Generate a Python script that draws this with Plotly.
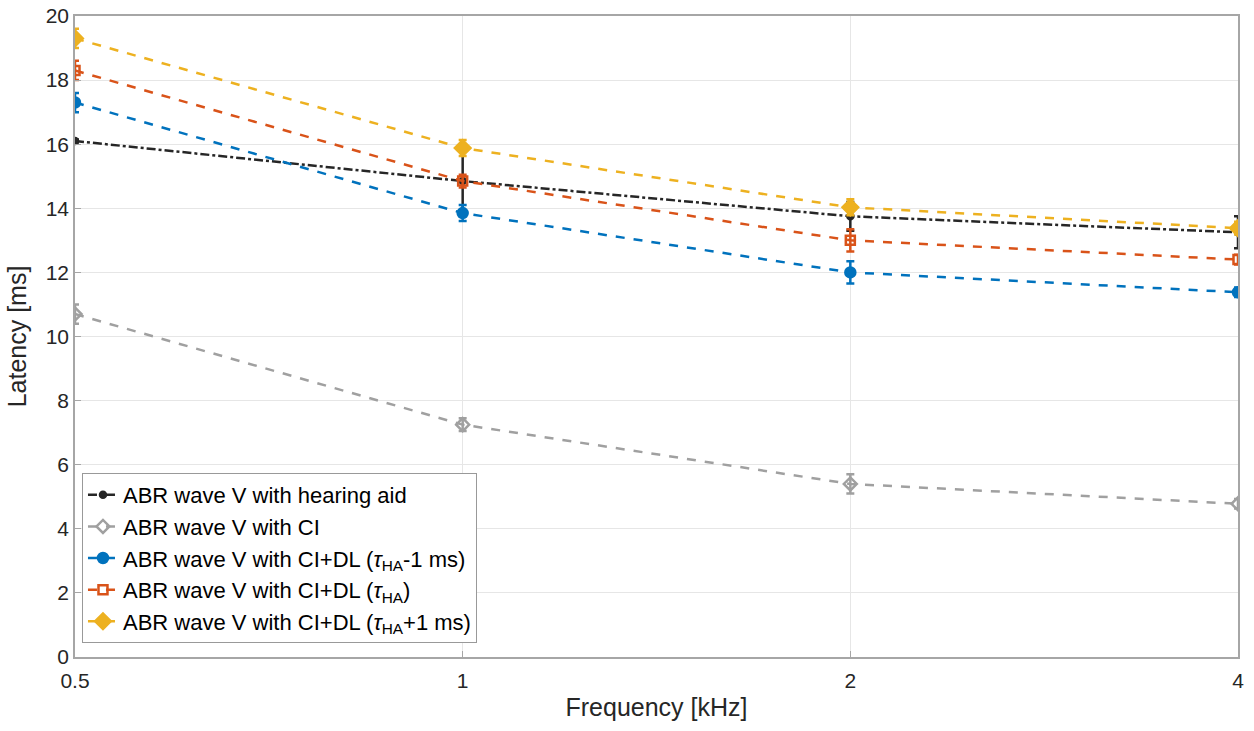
import plotly.graph_objects as go

freq = [0.5, 1, 2, 4]
tick_labels = ["0.5", "1", "2", "4"]

ha = [16.1, 14.85, 13.75, 13.25]
ha_err = [0.05, 1.0, 0.45, 0.5]
ci = [10.7, 7.25, 5.4, 4.78]
ci_err = [0.3, 0.2, 0.3, 0.15]
dl_m1 = [17.3, 13.85, 12.0, 11.38]
dl_m1_err = [0.3, 0.25, 0.35, 0.15]
dl_0 = [18.3, 14.85, 13.0, 12.4]
dl_0_err = [0.3, 0.2, 0.35, 0.15]
dl_p1 = [19.3, 15.88, 14.03, 13.38]
dl_p1_err = [0.3, 0.25, 0.25, 0.2]

names = [
    "ABR wave V with hearing aid",
    "ABR wave V with CI",
    "ABR wave V with CI+DL (<i>τ</i><sub>HA</sub>-1 ms)",
    "ABR wave V with CI+DL (<i>τ</i><sub>HA</sub>)",
    "ABR wave V with CI+DL (<i>τ</i><sub>HA</sub>+1 ms)",
]

series = [
    (ha, ha_err, "#262626", "dashdot", "circle", 6),
    (ci, ci_err, "#a0a0a0", "dash", "diamond-open", 10),
    (dl_m1, dl_m1_err, "#0072BD", "dash", "circle", 10),
    (dl_0, dl_0_err, "#D95319", "dash", "square-open", 9),
    (dl_p1, dl_p1_err, "#EDB120", "dash", "diamond", 12),
]

fig = go.Figure()
for name, (vals, errs, color, dash, sym, size) in zip(names, series):
    fig.add_trace(go.Scatter(
        x=freq, y=vals, name=name, mode="lines+markers",
        line=dict(color=color, width=2.5, dash=dash),
        marker=dict(symbol=sym, size=size, color=color, line=dict(color=color, width=2.5)),
        error_y=dict(type="data", array=errs, visible=True, color=color, thickness=2.5, width=4),
    ))

fig.update_layout(
    width=1254, height=731,
    margin=dict(l=75, r=16, t=16, b=74, autoexpand=False),
    paper_bgcolor="white", plot_bgcolor="white",
    font=dict(family="Arial, Liberation Sans, sans-serif", size=21, color="#262626"),
    showlegend=True,
    legend=dict(
        x=0.006, y=0.287, xanchor="left", yanchor="top",
        bgcolor="white", bordercolor="#999999", borderwidth=1,
        font=dict(size=22, color="#000000"),
        tracegroupgap=12, itemwidth=30,
    ),
    xaxis=dict(
        type="log", range=[-0.30103, 0.60206], automargin=False,
        tickvals=freq, ticktext=tick_labels, ticklabeloverflow="allow",
        ticklabelstandoff=4,
        title=dict(text="Frequency [kHz]", standoff=8),
        showgrid=True, gridcolor="#e6e6e6", gridwidth=1,
        showline=True, linecolor="#a6a6a6", linewidth=1.5, mirror=True,
        ticks="inside", ticklen=6, tickcolor="#a6a6a6",
        zeroline=False,
    ),
    yaxis=dict(
        range=[0, 20], dtick=2, automargin=False, ticklabeloverflow="allow",
        title=dict(text="Latency [ms]", standoff=12),
        showgrid=True, gridcolor="#e6e6e6", gridwidth=1,
        showline=True, linecolor="#a6a6a6", linewidth=1.5, mirror=True,
        ticks="inside", ticklen=6, tickcolor="#a6a6a6",
        zeroline=False,
    ),
)

fig.write_html("out.html", config={"displayModeBar": False},
               post_script="document.body.style.margin='0';")
